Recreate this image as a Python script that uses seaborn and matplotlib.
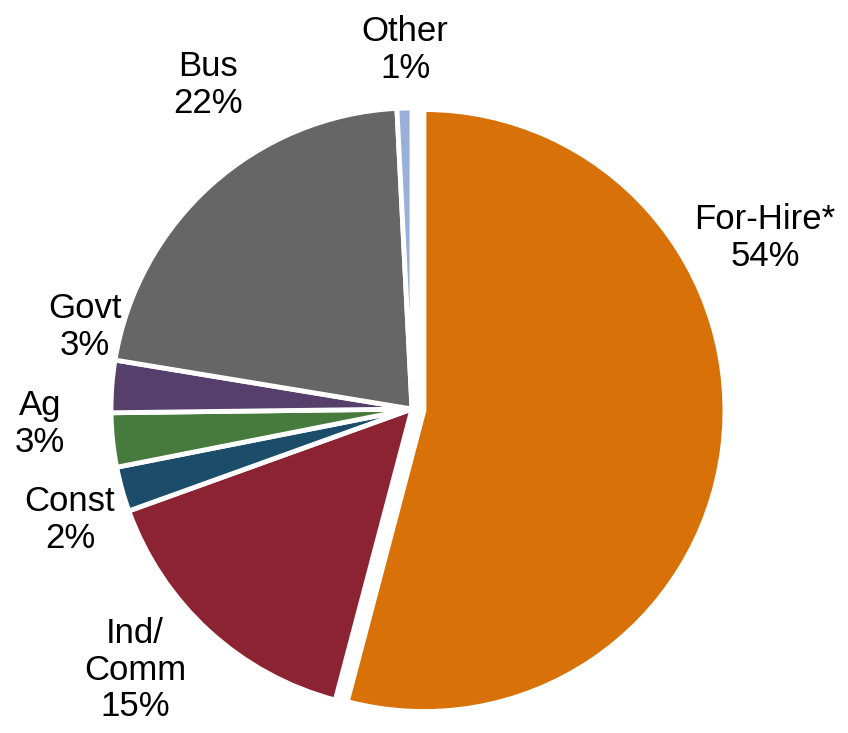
import matplotlib
matplotlib.use("Agg")
import matplotlib.pyplot as plt
import seaborn as sns

categories = ["For-Hire*", "Ind/\nComm", "Const", "Ag", "Govt", "Bus", "Other"]
values = [54.1, 15.4, 2.4, 2.9, 2.8, 21.6, 0.8]
pct_labels = ["54%", "15%", "2%", "3%", "3%", "22%", "1%"]
colors = ["#D87107", "#8B2332", "#1B4D6B", "#477A3D", "#563F6B", "#666666", "#9BB0D9"]
explode = [0.04, 0, 0, 0, 0, 0, 0]
# label centres in pixel coordinates (x from left, y from top)
label_px = [(765, 238), (135, 670), (70, 520), (40, 424), (85, 327), (208, 85), (405, 50)]

sns.set_theme(style="white")
plt.rcParams["font.family"] = ["Liberation Sans", "DejaVu Sans"]

W, H = 848, 733
fig = plt.figure(figsize=(W / 100, H / 100), dpi=100)
ax = fig.add_axes([0, 0, 1, 1])

cx, cy, R = 412, 409, 301
ax.pie(values, colors=colors, explode=explode, startangle=90, counterclock=False,
       radius=1.0, wedgeprops=dict(edgecolor="white", linewidth=3.5))
ax.set_aspect("auto")
ax.set_xlim(-cx / R, (W - cx) / R)
ax.set_ylim(-(H - cy) / R, cy / R)
ax.axis("off")

for cat, pct, (px, py) in zip(categories, pct_labels, label_px):
    ax.text((px - cx) / R, (cy - py) / R, f"{cat}\n{pct}", ha="center", va="center",
            multialignment="center", fontsize=25, color="black", linespacing=1.15)

fig.savefig("out.png", dpi=100)
